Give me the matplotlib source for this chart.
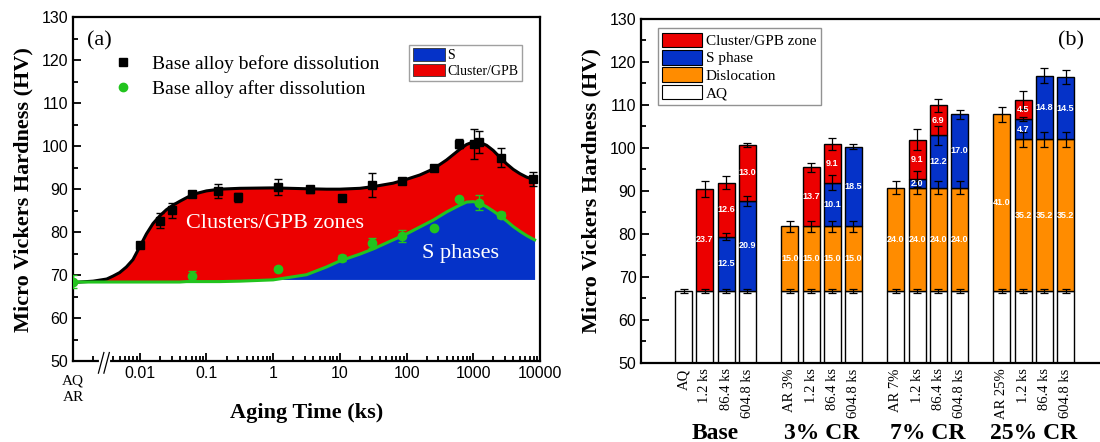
import numpy as np
import matplotlib
matplotlib.use('Agg')
import matplotlib.pyplot as plt
import matplotlib.transforms as mtransforms
from matplotlib.patches import Patch
from matplotlib.ticker import MultipleLocator, FixedLocator, FixedFormatter

# ---------------- (a) aging curve data ----------------
# measured points, before dissolution (black squares)
t_before = [0.01, 0.02, 0.03, 0.06, 0.15, 0.3, 1.2, 3.6, 10.8, 30, 86.4, 259, 604.8, 1036, 1209, 2592, 7776]
hv_before = [76.9, 82.7, 85.1, 88.8, 89.6, 88.1, 90.5, 90.0, 87.9, 91.0, 91.9, 94.9, 100.6, 100.5, 101.0, 97.3, 92.3]
err_before = [0.5, 1.8, 1.8, 0.5, 1.6, 1.0, 1.8, 0.8, 0.3, 2.8, 0.4, 0.5, 1.0, 3.5, 2.5, 2.2, 1.6]

# measured points, after dissolution (green circles)
t_after = [0.001, 0.06, 1.2, 10.8, 30, 86.4, 259, 604.8, 1209, 2592]
hv_after = [68.5, 69.9, 71.5, 74.0, 77.4, 79.2, 81.0, 87.7, 86.9, 84.0]
err_after = [1.5, 1.0, 0.3, 0.6, 1.2, 1.4, 0.0, 0.0, 1.8, 0.6]

# fitted curves
t_fit = [0.001, 0.002, 0.0032, 0.004, 0.005, 0.0063, 0.0079, 0.01, 0.0126, 0.0158, 0.02,
         0.025, 0.0316, 0.04, 0.05, 0.063, 0.1, 0.158, 0.316, 1, 3.16, 6.3, 10, 20, 31.6,
         63, 100, 158, 251, 398, 631, 794, 1000, 1259, 1585, 1995, 2512, 3162, 3981, 5012,
         6310, 8300]
fit_before = [68.3, 68.6, 69.1, 69.8, 70.6, 71.9, 73.6, 76.6, 79.6, 82.0, 83.8,
              85.2, 86.3, 87.2, 88.0, 88.8, 89.6, 90.0, 90.2, 90.3, 90.1, 90.0, 90.0, 90.2, 90.6,
              91.4, 92.3, 93.3, 94.7, 96.8, 99.3, 100.4, 101.0, 100.9, 100.2, 99.0, 97.4, 95.9, 94.6, 93.6,
              92.8, 92.2]
fit_after = [68.4, 68.4, 68.4, 68.4, 68.4, 68.4, 68.4, 68.4, 68.4, 68.4, 68.4,
             68.4, 68.4, 68.4, 68.5, 68.5, 68.5, 68.5, 68.6, 68.9, 70.1, 71.9, 73.3, 74.9, 76.1,
             78.2, 79.6, 81.2, 82.8, 84.7, 86.3, 87.0, 87.1, 86.7, 85.9, 84.9, 83.8, 82.6, 81.3, 80.2,
             79.2, 78.2]
base_level = 69.0

# ---------------- (b) stacked bar data ----------------
bar_labels = ['AQ', '1.2 ks', '86.4 ks', '604.8 ks',
              'AR 3%', '1.2 ks', '86.4 ks', '604.8 ks',
              'AR 7%', '1.2 ks', '86.4 ks', '604.8 ks',
              'AR 25%', '1.2 ks', '86.4 ks', '604.8 ks']
groups = ['Base', '3% CR', '7% CR', '25% CR']
aq = [66.8] * 16
disloc = [0, 0, 0, 0, 15.0, 15.0, 15.0, 15.0, 24.0, 24.0, 24.0, 24.0, 41.0, 35.2, 35.2, 35.2]
s_phase = [0, 0, 12.5, 20.9, 0, 0, 10.1, 18.5, 0, 2.0, 12.2, 17.0, 0, 4.7, 14.8, 14.5]
cluster = [0, 23.7, 12.6, 13.0, 0, 13.7, 9.1, 0, 0, 9.1, 6.9, 0, 0, 4.5, 0, 0]
err_aq = [0.5] * 16
err_disloc = [0, 0, 0, 0, 1.3, 1.3, 1.3, 1.3, 1.6, 1.6, 1.6, 1.6, 1.8, 1.8, 1.8, 1.8]
err_s = [0, 0, 0.8, 1.2, 0, 0, 1.7, 0.6, 0, 1.8, 2.2, 1.0, 0, 0.5, 1.8, 1.6]
err_cluster = [0, 1.8, 1.5, 0.4, 0, 1.0, 1.4, 0, 0, 2.4, 1.5, 0, 0, 2.1, 0, 0]

RED = '#EC0000'
BLUE = '#0532C8'
ORANGE = '#FF8C00'
GREEN = '#22C41E'
SERIF = 'Liberation Serif'
SANS = 'Liberation Sans'

fig = plt.figure(figsize=(11, 4.42), dpi=100)

# ================= panel (a) =================
ax = fig.add_axes([0.0664, 0.183, 0.4245, 0.778])
t_fit_a = np.array(t_fit)
fb = np.array(fit_before)
fa = np.array(fit_after)
ax.fill_between(t_fit_a, base_level, fa, where=fa > base_level, interpolate=True,
                color=BLUE, lw=0, zorder=1)
ax.fill_between(t_fit_a, fa, fb, color=RED, lw=0, zorder=1)
ax.plot(t_fit_a, fb, color='black', lw=2.2, zorder=3)
ax.plot(t_fit_a, fa, color=GREEN, lw=2.2, zorder=3)

ax.errorbar(t_before, hv_before, yerr=err_before, fmt='none', ecolor='black',
            elinewidth=1, capsize=3, capthick=1, zorder=4)
ax.errorbar(t_after, hv_after, yerr=err_after, fmt='none', ecolor=GREEN,
            elinewidth=1, capsize=3, capthick=1, zorder=4)
h1, = ax.plot(t_before, hv_before, 's', color='black', ms=5.5, zorder=5,
              label='Base alloy before dissolution')
h2, = ax.plot(t_after, hv_after, 'o', color=GREEN, ms=6, zorder=5,
              label='Base alloy after dissolution')

ax.set_xscale('log')
ax.set_xlim(0.001, 10000)
ax.set_ylim(50, 130)
ax.xaxis.set_major_locator(FixedLocator([0.01, 0.1, 1, 10, 100, 1000, 10000]))
ax.xaxis.set_major_formatter(FixedFormatter(['0.01', '0.1', '1', '10', '100', '1000', '10000']))
minors = [0.002] + [k * 0.001 for k in range(4, 10)]
for d in [0.01, 0.1, 1, 10, 100, 1000]:
    minors += [k * d for k in range(2, 10)]
ax.xaxis.set_minor_locator(FixedLocator(minors))
ax.xaxis.set_minor_formatter(FixedFormatter([''] * len(minors)))
ax.yaxis.set_major_locator(MultipleLocator(10))
ax.yaxis.set_minor_locator(MultipleLocator(5))
ax.tick_params(which='both', direction='in', top=False, right=False, width=1.3)
ax.tick_params(which='major', length=6, labelsize=11.5)
ax.tick_params(which='minor', length=3.5)
for lab in ax.get_xticklabels() + ax.get_yticklabels():
    lab.set_fontfamily(SANS)
for sp in ax.spines.values():
    sp.set_linewidth(1.6)

# axis break marks
trans = mtransforms.blended_transform_factory(ax.transData, ax.transAxes)
ax.plot([0.0026, 0.0033], [0, 0], color='white', lw=3, transform=trans, clip_on=False, zorder=6)
ax.plot([0.0024, 0.0029], [-0.035, 0.025], color='black', lw=0.9, transform=trans, clip_on=False, zorder=7)
ax.plot([0.0029, 0.0035], [-0.035, 0.025], color='black', lw=0.9, transform=trans, clip_on=False, zorder=7)
ax.text(0.001, -0.04, 'AQ\nAR', transform=trans, ha='center', va='top',
        fontsize=11, family=SERIF, linespacing=1.35)

ax.set_xlabel('Aging Time (ks)', fontsize=16, fontweight='bold', family=SERIF, labelpad=16)
ax.set_ylabel('Micro Vickers Hardness (HV)', fontsize=16, fontweight='bold', family=SERIF, labelpad=6)
ax.text(0.03, 0.93, '(a)', transform=ax.transAxes, fontsize=16, family=SERIF, va='center')
ax.text(1.05, 82.1, 'Clusters/GPB zones', color='white', fontsize=16, family=SERIF,
        ha='center', va='center', zorder=2)
ax.text(650, 75.1, 'S phases', color='white', fontsize=16, family=SERIF,
        ha='center', va='center', zorder=2)

leg1 = ax.legend(handles=[h1, h2], loc='upper left', bbox_to_anchor=(0.065, 0.912),
                 frameon=False, prop={'family': SERIF, 'size': 14}, handlelength=1.2,
                 handletextpad=0.9, labelspacing=0.35, borderaxespad=0)
ax.add_artist(leg1)
ax.legend(handles=[Patch(facecolor=BLUE, edgecolor='#333333', lw=0.6, label='S'),
                   Patch(facecolor=RED, edgecolor='#333333', lw=0.6, label='Cluster/GPB')],
          loc='upper left', bbox_to_anchor=(0.72, 0.92), fancybox=False, edgecolor='#888888',
          prop={'family': SERIF, 'size': 10}, handlelength=2.3, handleheight=1.0,
          handletextpad=0.2, labelspacing=0.1, borderpad=0.25, borderaxespad=0)

# ================= panel (b) =================
bx = fig.add_axes([0.583, 0.179, 0.417, 0.778])
pos = np.array([g * 5 + i for g in range(4) for i in range(4)], dtype=float)
aq_a = np.array(aq)
d_a = np.array(disloc)
s_a = np.array(s_phase)
c_a = np.array(cluster)
w = 0.8
ekw = dict(fmt='none', ecolor='black', elinewidth=0.9, capsize=3.2, capthick=0.9, zorder=4)

bx.bar(pos, aq_a, width=w, color='white', edgecolor='black', lw=1, zorder=2)
bx.errorbar(pos, aq_a, yerr=err_aq, **ekw)
segs = [(d_a, aq_a, ORANGE, err_disloc),
        (s_a, aq_a + d_a, BLUE, err_s),
        (c_a, aq_a + d_a + s_a, RED, err_cluster)]
for vals, bottom, col, errs in segs:
    m = vals > 0
    bx.bar(pos[m], vals[m], bottom=bottom[m], width=w, color=col, edgecolor='black', lw=1, zorder=2)
    bx.errorbar(pos[m], (bottom + vals)[m], yerr=np.array(errs)[m], **ekw)
    for x, b, v in zip(pos[m], bottom[m], vals[m]):
        bx.text(x, b + v / 2, f'{v:.1f}', color='white', fontsize=6.5, fontweight='bold',
                family=SANS, ha='center', va='center', zorder=5)

bx.set_xlim(-2, 19.62)
bx.set_ylim(50, 130)
bx.set_xticks(pos)
bx.set_xticklabels(bar_labels, rotation=90, fontsize=10.5, family=SERIF)
bx.yaxis.set_major_locator(MultipleLocator(10))
bx.yaxis.set_minor_locator(MultipleLocator(5))
bx.tick_params(axis='x', length=0, pad=4)
bx.tick_params(axis='y', which='both', direction='in', width=1.3)
bx.tick_params(axis='y', which='major', length=6, labelsize=11.5)
bx.tick_params(axis='y', which='minor', length=3.5)
for lab in bx.get_yticklabels():
    lab.set_fontfamily(SANS)
for sp in bx.spines.values():
    sp.set_linewidth(1.6)
bx.spines['right'].set_visible(False)
bx.set_ylabel('Micro Vickers Hardness (HV)', fontsize=16, fontweight='bold', family=SERIF, labelpad=6)
transb = mtransforms.blended_transform_factory(bx.transData, bx.transAxes)
for g, name in enumerate(groups):
    bx.text(g * 5 + 1.5, -0.205, name, transform=transb, ha='center', va='center',
            fontsize=17, fontweight='bold', family=SERIF)
bx.text(0.965, 0.935, '(b)', transform=bx.transAxes, fontsize=16, family=SERIF,
        ha='right', va='center')
bx.legend(handles=[Patch(facecolor=RED, edgecolor='black', lw=0.8, label='Cluster/GPB zone'),
                   Patch(facecolor=BLUE, edgecolor='black', lw=0.8, label='S phase'),
                   Patch(facecolor=ORANGE, edgecolor='black', lw=0.8, label='Dislocation'),
                   Patch(facecolor='white', edgecolor='black', lw=0.8, label='AQ')],
          loc='upper left', bbox_to_anchor=(0.036, 0.974), fancybox=False, edgecolor='#777777',
          prop={'family': SERIF, 'size': 11}, handlelength=2.6, handleheight=1.1,
          handletextpad=0.25, labelspacing=0.12, borderpad=0.3, borderaxespad=0)

fig.savefig('out.png', dpi=100)
